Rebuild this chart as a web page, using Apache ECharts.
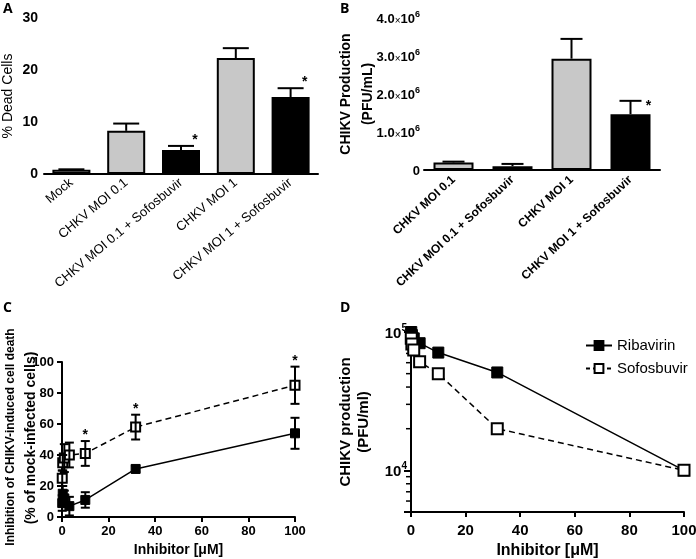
<!DOCTYPE html>
<html>
<head>
<meta charset="utf-8">
<script src="https://cdn.jsdelivr.net/npm/echarts@6/dist/echarts.min.js"></script>
<style>
  html, body { margin: 0; padding: 0; background: #fff; }
  #main { width: 696px; height: 559px; }
</style>
</head>
<body>
<div id="main"></div>
<script>
// panel A - % dead cells
var deadCats = ['Mock', 'CHKV MOI 0.1', 'CHKV MOI 0.1 + Sofosbuvir', 'CHKV MOI 1', 'CHKV MOI 1 + Sofosbuvir'];
var deadVals = [0.8, 8.3, 4.6, 22.3, 14.8];
var deadErr = [0.1, 1.4, 0.8, 1.9, 1.7];
var deadSig = [false, false, true, false, true];

// panel B - virus production
var pfuCats = ['CHKV MOI 0.1', 'CHKV MOI 0.1 + Sofosbuvir', 'CHKV MOI 1', 'CHKV MOI 1 + Sofosbuvir'];
var pfuVals = [0.2e6, 0.1e6, 2.93e6, 1.47e6];
var pfuErr = [0.02e6, 0.06e6, 0.52e6, 0.35e6];
var pfuSig = [false, false, false, true];

// panels C and D - dose response
var doses = [0.1, 0.316, 1, 3.16, 10, 31.6, 100];
var ribaInhib = [9, 15, 12, 7, 11, 31, 54];
var ribaInhibErr = [5, 5, 5, 6, 5, 2, 10];
var sofoInhib = [25, 35, 38, 40, 41, 58, 85];
var sofoInhibErr = [5, 5, 9, 8, 8, 8, 12];
var sofoInhibSig = [false, false, false, false, true, true, true];
var ribaPfu = [100000, 95000, 90000, 83000, 71000, 51000, 10000];
var sofoPfu = [90000, 82000, 74000, 61000, 50000, 20000, 10000];
var pfuMinorTicks = [6000, 7000, 8000, 9000, 20000, 30000, 40000, 50000, 60000, 70000, 80000, 90000];

var FONT = 'Liberation Sans, Arial, sans-serif';
var barColorsA = ['#ffffff', '#c8c8c8', '#000000', '#c8c8c8', '#000000'];
var barColorsB = ['#c8c8c8', '#000000', '#c8c8c8', '#000000'];

var chart = echarts.init(document.getElementById('main'));

function axisBase(extra) {
  var a = {
    gridIndex: 0,
    axisLine: { onZero: false, lineStyle: { color: '#000', width: 2 } },
    axisTick: { length: 5, lineStyle: { color: '#000', width: 2 } },
    axisLabel: { color: '#000', fontFamily: FONT, fontWeight: 'bold', fontSize: 13 },
    splitLine: { show: false },
    nameMoveOverlap: false,
    nameTextStyle: { color: '#000', fontFamily: FONT }
  };
  return Object.assign(a, extra);
}

// error bars; both = draw lower half too
function errSeries(name, xi, yi, data, capW, both) {
  return {
    type: 'custom', name: name, xAxisIndex: xi, yAxisIndex: yi, z: 5, clip: false,
    encode: { x: 0, y: 1 }, silent: true,
    data: data,
    renderItem: function (params, api) {
      var x = api.value(0), y = api.value(1), e = api.value(2);
      var top = api.coord([x, y + e]);
      var mid = api.coord([x, y]);
      var bot = api.coord([x, y - e]);
      var st = { stroke: '#000', lineWidth: 2 };
      var ch = [
        { type: 'line', shape: { x1: top[0], y1: top[1], x2: mid[0], y2: both ? bot[1] : mid[1] }, style: st },
        { type: 'line', shape: { x1: top[0] - capW / 2, y1: top[1], x2: top[0] + capW / 2, y2: top[1] }, style: st }
      ];
      if (both) {
        ch.push({ type: 'line', shape: { x1: bot[0] - capW / 2, y1: bot[1], x2: bot[0] + capW / 2, y2: bot[1] }, style: st });
      }
      return { type: 'group', children: ch };
    }
  };
}

// significance stars above error caps
function starSeries(xi, yi, data, dx, dy) {
  return {
    type: 'custom', xAxisIndex: xi, yAxisIndex: yi, z: 6, clip: false, silent: true,
    encode: { x: 0, y: 1 },
    data: data,
    renderItem: function (params, api) {
      var p = api.coord([api.value(0), api.value(1) + api.value(2)]);
      return {
        type: 'text',
        style: { text: '*', x: p[0] + dx, y: p[1] + dy, fill: '#000', font: 'bold 14px ' + FONT, align: 'center', verticalAlign: 'middle' }
      };
    }
  };
}

var deadErrData = deadVals.map(function (v, i) { return [i, v, deadErr[i]]; });
var deadStarData = deadErrData.filter(function (d, i) { return deadSig[i]; });
var pfuErrData = pfuVals.map(function (v, i) { return [i, v, pfuErr[i]]; });
var pfuStarData = pfuErrData.filter(function (d, i) { return pfuSig[i]; });
var ribaErrData = doses.map(function (d, i) { return [d, ribaInhib[i], ribaInhibErr[i]]; });
var sofoErrData = doses.map(function (d, i) { return [d, sofoInhib[i], sofoInhibErr[i]]; });
var sofoStarData = sofoErrData.filter(function (d, i) { return sofoInhibSig[i]; });

function pair(xs, ys) { return xs.map(function (x, i) { return [x, ys[i]]; }); }

var openSq = { color: '#fff', borderColor: '#000', borderWidth: 2 };
var fillSq = { color: '#000', borderColor: '#000', borderWidth: 1 };
var letterFont = 'bold 14px Open Sans, sans-serif';

var option = {
  animation: false,
  backgroundColor: '#fff',
  textStyle: { fontFamily: FONT },
  graphic: [
    { type: 'text', left: 3, top: 2, style: { text: 'A', font: letterFont, fill: '#000' } },
    { type: 'text', left: 340, top: 2, style: { text: 'B', font: letterFont, fill: '#000' } },
    { type: 'text', left: 3, top: 301, style: { text: 'C', font: letterFont, fill: '#000' } },
    { type: 'text', left: 340, top: 301, style: { text: 'D', font: letterFont, fill: '#000' } },
    // panel C y title, two rotated lines
    { type: 'text', x: 11, y: 437, rotation: Math.PI / 2,
      style: { text: 'Inhibition of CHIKV-induced cell death', font: 'bold 12px ' + FONT, fill: '#000', align: 'center', verticalAlign: 'middle' } },
    { type: 'text', x: 31, y: 438, rotation: Math.PI / 2,
      style: { text: '(% of mock-infected cells)', font: 'bold 14px ' + FONT, fill: '#000', align: 'center', verticalAlign: 'middle' } }
  ],
  legend: {
    data: [
      { name: 'Ribavirin' },
      { name: 'Sofosbuvir', lineStyle: { type: [4, 3] } }
    ],
    orient: 'vertical', left: 580, top: 333, itemGap: 8,
    itemWidth: 26, itemHeight: 11,
    textStyle: { fontSize: 15, color: '#000', fontFamily: FONT },
    selectedMode: false
  },
  grid: [
    { left: 44, top: 18, width: 274, height: 156, outerBoundsMode: 'none' },
    { left: 424, top: 18, width: 236, height: 152, outerBoundsMode: 'none' },
    { left: 62, top: 362, width: 233, height: 155, outerBoundsMode: 'none' },
    { left: 411, top: 332, width: 273, height: 180, outerBoundsMode: 'none' }
  ],
  xAxis: [
    axisBase({
      gridIndex: 0, type: 'category', data: deadCats,
      axisTick: { alignWithLabel: true, length: 6, lineStyle: { color: '#000', width: 2 } },
      axisLabel: { interval: 0, rotate: 40, color: '#000', fontFamily: FONT, fontSize: 13, margin: 7 }
    }),
    axisBase({
      gridIndex: 1, type: 'category', data: pfuCats,
      axisTick: { alignWithLabel: true, length: 5, lineStyle: { color: '#000', width: 2 } },
      axisLabel: { interval: 0, rotate: 43, color: '#000', fontFamily: FONT, fontWeight: 'bold', fontSize: 12, margin: 8 }
    }),
    axisBase({
      gridIndex: 2, type: 'value', min: 0, max: 100, interval: 20,
      name: 'Inhibitor [\u03bcM]', nameLocation: 'middle', nameGap: 26,
      nameTextStyle: { color: '#000', fontFamily: FONT, fontWeight: 'bold', fontSize: 14 }
    }),
    axisBase({
      gridIndex: 3, type: 'value', min: 0, max: 100, interval: 20,
      axisLabel: { color: '#000', fontFamily: FONT, fontWeight: 'bold', fontSize: 15, margin: 11 },
      name: 'Inhibitor [\u03bcM]', nameLocation: 'middle', nameGap: 31,
      nameTextStyle: { color: '#000', fontFamily: FONT, fontWeight: 'bold', fontSize: 16 }
    })
  ],
  yAxis: [
    axisBase({
      gridIndex: 0, type: 'value', min: 0, max: 30, interval: 10,
      axisLabel: { color: '#000', fontFamily: FONT, fontWeight: 'bold', fontSize: 14, margin: 6 },
      name: '% Dead Cells', nameLocation: 'middle', nameGap: 29,
      nameTextStyle: { color: '#000', fontFamily: FONT, fontSize: 14 }
    }),
    axisBase({
      gridIndex: 1, type: 'value', min: 0, max: 4e6, interval: 1e6,
      axisLabel: {
        margin: 4,
        formatter: function (v) {
          if (v === 0) return '{b|0}';
          return '{b|' + (v / 1e6).toFixed(1) + '}{x|\u00d7}{b|10}{s|6}';
        },
        rich: {
          b: { fontFamily: FONT, fontWeight: 'bold', fontSize: 13, color: '#000', lineHeight: 16, verticalAlign: 'bottom' },
          x: { fontFamily: FONT, fontSize: 10, color: '#000', lineHeight: 16, verticalAlign: 'bottom' },
          s: { fontFamily: FONT, fontWeight: 'bold', fontSize: 9, color: '#000', lineHeight: 9, verticalAlign: 'top' }
        }
      },
      name: 'CHIKV Production\n(PFU/mL)', nameLocation: 'middle', nameGap: 45,
      nameTextStyle: { color: '#000', fontFamily: FONT, fontWeight: 'bold', fontSize: 14, lineHeight: 22 }
    }),
    axisBase({
      gridIndex: 2, type: 'value', min: 0, max: 100, interval: 20
    }),
    axisBase({
      gridIndex: 3, type: 'log', logBase: 10, min: 5000, max: 100000,
      axisTick: { length: 7, lineStyle: { color: '#000', width: 2 } },
      axisLabel: {
        margin: 4,
        formatter: function (v) {
          var l = Math.log10(v);
          if (Math.abs(l - Math.round(l)) > 1e-6) return '';
          return '{b|10}{s|' + Math.round(l) + '}';
        },
        rich: {
          b: { fontFamily: FONT, fontWeight: 'bold', fontSize: 15, color: '#000', lineHeight: 18, verticalAlign: 'bottom' },
          s: { fontFamily: FONT, fontWeight: 'bold', fontSize: 10, color: '#000', lineHeight: 10, verticalAlign: 'top' }
        }
      },
      name: 'CHIKV production\n(PFU/ml)', nameLocation: 'middle', nameGap: 38,
      nameTextStyle: { color: '#000', fontFamily: FONT, fontWeight: 'bold', fontSize: 15, lineHeight: 18 }
    })
  ],
  series: [
    {
      type: 'bar', xAxisIndex: 0, yAxisIndex: 0, barWidth: 38, silent: true,
      data: deadVals.map(function (v, i) { return { value: v, itemStyle: { color: barColorsA[i] } }; }),
      itemStyle: { borderColor: '#000', borderWidth: 2 }
    },
    errSeries('errA', 0, 0, deadErrData, 26, false),
    starSeries(0, 0, deadStarData, 14, -6),
    {
      type: 'bar', xAxisIndex: 1, yAxisIndex: 1, barWidth: 40, silent: true,
      data: pfuVals.map(function (v, i) { return { value: v, itemStyle: { color: barColorsB[i] } }; }),
      itemStyle: { borderColor: '#000', borderWidth: 2 }
    },
    errSeries('errB', 1, 1, pfuErrData, 22, false),
    starSeries(1, 1, pfuStarData, 18, 5),
    {
      name: 'Ribavirin', type: 'line', xAxisIndex: 2, yAxisIndex: 2, z: 4, clip: false,
      data: pair(doses, ribaInhib), symbol: 'rect', symbolSize: 9,
      lineStyle: { color: '#000', width: 1.5 }, itemStyle: fillSq
    },
    {
      name: 'Sofosbuvir', type: 'line', xAxisIndex: 2, yAxisIndex: 2, z: 4, clip: false,
      data: pair(doses, sofoInhib), symbol: 'rect', symbolSize: 9,
      lineStyle: { color: '#000', width: 1.5, type: [6, 4] }, itemStyle: openSq
    },
    errSeries('errC1', 2, 2, ribaErrData, 9, true),
    errSeries('errC2', 2, 2, sofoErrData, 9, true),
    starSeries(2, 2, sofoStarData, 0, -6),
    {
      name: 'Ribavirin', type: 'line', xAxisIndex: 3, yAxisIndex: 3, z: 4, clip: false,
      data: pair(doses, ribaPfu), symbol: 'rect', symbolSize: 11,
      lineStyle: { color: '#000', width: 1.5 }, itemStyle: fillSq
    },
    {
      name: 'Sofosbuvir', type: 'line', xAxisIndex: 3, yAxisIndex: 3, z: 4, clip: false,
      data: pair(doses, sofoPfu), symbol: 'rect', symbolSize: 11,
      lineStyle: { color: '#000', width: 1.5, type: [6, 4] }, itemStyle: openSq
    },
    {
      // minor ticks on the log axis
      type: 'custom', xAxisIndex: 3, yAxisIndex: 3, clip: false, silent: true,
      encode: { x: 0, y: 1 },
      data: pfuMinorTicks.map(function (v) { return [0, v]; }),
      renderItem: function (params, api) {
        var p = api.coord([0, api.value(1)]);
        return { type: 'line', shape: { x1: p[0] - 5, y1: p[1], x2: p[0], y2: p[1] }, style: { stroke: '#000', lineWidth: 1.5 } };
      }
    }
  ]
};

chart.setOption(option);
</script>
</body>
</html>
